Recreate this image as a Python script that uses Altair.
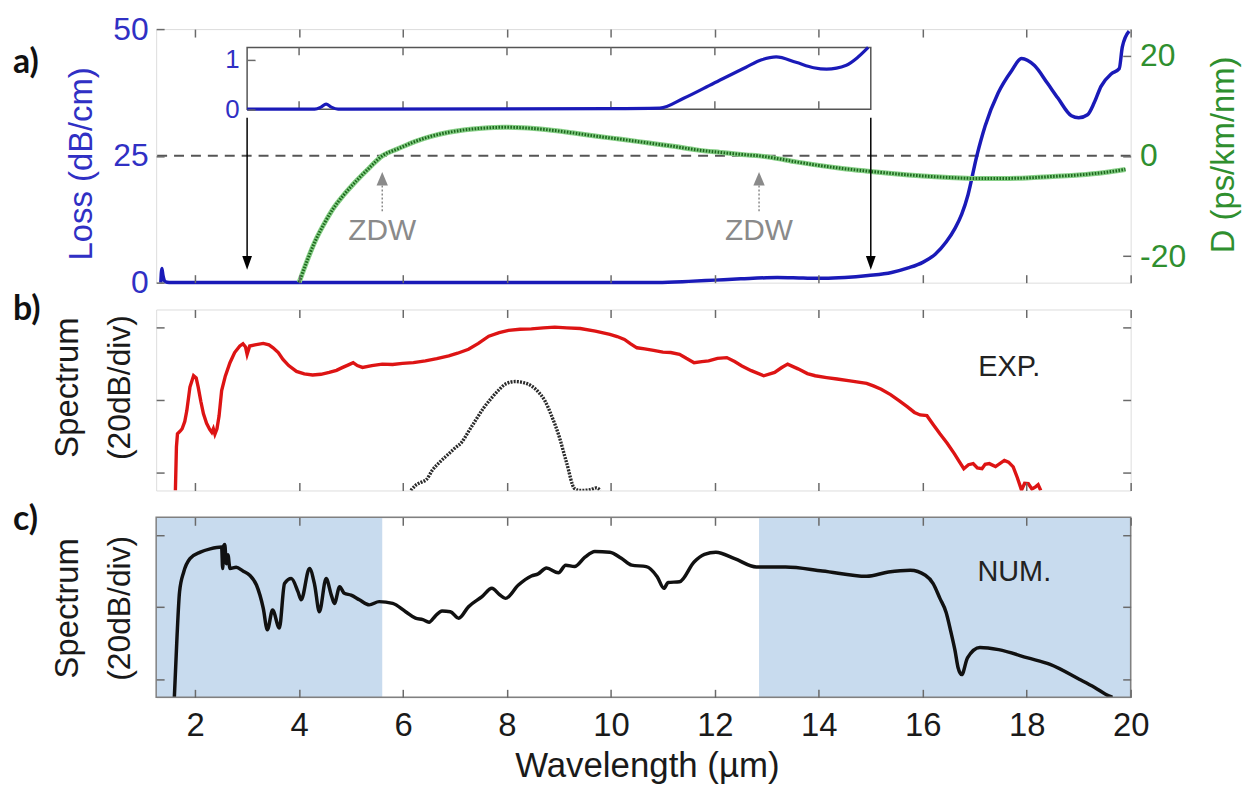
import altair as alt
import pandas as pd

# ---------------- data ----------------
x_ticks = [2, 4, 6, 8, 10, 12, 14, 16, 18, 20]
loss_ticks = [0, 25, 50]
d_ticks = [-20, 0, 20]
spec_ticks = [-40, -20, 0]
inset_yticks = [0, 1]
inset_xticks = [4, 6, 8, 10, 12, 14]
inset_span = [3, 15]
arrow_wl = [3, 15]
zdw_wl = [5.6, 12.85]

loss_wl = [1.34, 1.36, 1.38, 1.42, 1.5, 4.0, 10.9, 11.5, 12.0, 12.5, 13.2, 13.7, 14.1, 14.5,
           14.95, 15.4, 15.72, 16.0, 16.24, 16.45, 16.62, 16.75, 16.87, 17.04, 17.2, 17.45,
           17.71, 17.9, 18.15, 18.4, 18.6, 18.86, 19.0, 19.17, 19.3, 19.43, 19.63, 19.78,
           19.84, 19.97]
loss_val = [0.0, 2.8, 1.5, 0.2, 0.05, 0.05, 0.05, 0.25, 0.5, 0.75, 1.0, 0.9, 0.85, 1.0,
            1.4, 2.0, 2.9, 4.0, 5.6, 8.0, 10.7, 13.5, 17.3, 25.0, 30.9, 37.4,
            41.8, 44.2, 42.8, 39.3, 36.4, 32.9, 32.5, 33.1, 35.5, 38.7, 41.2, 42.2,
            46.5, 49.6]

inset_wl = [3.0, 4.3, 4.42, 4.52, 4.62, 4.75, 10.0, 10.94, 11.4, 11.97, 12.6, 12.9, 13.18,
            13.56, 13.9, 14.15, 14.53, 14.75, 14.95]
inset_val = [0.0, 0.0, 0.04, 0.1, 0.04, 0.0, 0.01, 0.02, 0.22, 0.52, 0.85, 1.0, 1.06,
             0.95, 0.84, 0.81, 0.89, 1.05, 1.25]

disp_wl = [4.0, 4.15, 4.3, 4.5, 4.65, 4.85, 5.1, 5.35, 5.6, 5.9, 6.24, 6.54, 6.88, 7.2,
           7.52, 7.95, 8.3, 8.78, 9.25, 9.73, 10.2, 10.7, 11.2, 11.65, 12.1, 12.6, 12.85,
           13.1, 13.56, 14.0, 14.45, 14.9, 15.4, 16.0, 16.5, 17.0, 17.5, 18.0, 18.5, 19.0,
           19.5, 19.9]
disp_val = [-25.2, -21.0, -17.2, -13.2, -10.6, -7.9, -5.0, -2.4, 0.0, 1.4, 2.9, 3.9, 4.7,
            5.2, 5.5, 5.7, 5.6, 5.2, 4.6, 3.9, 3.3, 2.6, 1.9, 1.2, 0.7, 0.2, 0.0,
            -0.35, -1.2, -1.9, -2.5, -3.0, -3.5, -4.0, -4.3, -4.5, -4.5, -4.4, -4.1, -3.8,
            -3.3, -2.7]

exp_wl = [1.62, 1.64, 1.66, 1.72, 1.75, 1.8, 1.84, 1.9, 1.97, 2.02, 2.06, 2.11, 2.16, 2.22,
          2.28, 2.32, 2.35, 2.38, 2.42, 2.46, 2.51, 2.58, 2.67, 2.76, 2.86, 2.92, 2.97, 3.0,
          3.05, 3.15, 3.31, 3.42, 3.5, 3.6, 3.69, 3.8, 3.95, 4.1, 4.26, 4.42, 4.58, 4.72,
          4.84, 4.95, 5.04, 5.12, 5.22, 5.4, 5.6, 5.8, 5.99, 6.2, 6.43, 6.65, 6.88, 7.05,
          7.26, 7.45, 7.65, 7.85, 8.03, 8.25, 8.47, 8.7, 8.92, 9.15, 9.41, 9.7, 9.98, 10.12,
          10.26, 10.38, 10.5, 10.65, 10.82, 11.0, 11.15, 11.32, 11.45, 11.6, 11.75, 11.88,
          12.05, 12.23, 12.38, 12.52, 12.7, 12.94, 13.15, 13.28, 13.4, 13.6, 13.78, 13.93,
          14.15, 14.35, 14.6, 14.92, 15.05, 15.2, 15.38, 15.55, 15.7, 15.84, 15.95, 16.08,
          16.2, 16.33, 16.47, 16.61, 16.7, 16.79, 16.88, 16.97, 17.05, 17.14, 17.2, 17.28,
          17.4, 17.57, 17.65, 17.74, 17.82, 17.9, 17.96, 18.03, 18.1, 18.17, 18.22, 18.27]
exp_db = [-45.0, -33.0, -29.4, -28.5, -28.0, -26.0, -23.0, -16.5, -13.4, -14.0, -16.6, -20.5,
          -23.9, -26.5, -28.2, -29.0, -28.0, -29.5, -28.0, -24.5, -17.5, -13.5, -9.8, -7.0,
          -5.2, -4.6, -5.5, -7.5, -5.2, -4.9, -4.5, -4.9, -5.7, -7.0, -8.9, -10.6, -12.2,
          -12.9, -13.2, -13.0, -12.5, -11.9, -11.1, -10.4, -9.8, -10.6, -11.1, -10.6, -10.2,
          -10.3, -10.0, -9.8, -9.3, -8.7, -7.9, -7.2, -6.1, -4.5, -2.5, -1.5, -0.9, -0.6,
          -0.5, -0.2, 0.0, -0.2, -0.4, -1.1, -2.0, -2.6, -3.4, -4.6, -5.7, -6.0, -6.4, -6.9,
          -7.0, -7.5, -8.6, -9.8, -9.5, -9.3, -8.6, -8.4, -9.5, -10.7, -12.0, -13.4, -12.5,
          -11.2, -10.2, -11.5, -12.8, -13.4, -13.9, -14.3, -14.8, -15.5, -16.2, -17.1, -18.6,
          -20.3, -21.9, -23.5, -24.2, -24.4, -26.8, -29.4, -32.0, -34.9, -37.0, -39.0, -37.9,
          -37.6, -38.8, -39.0, -37.8, -37.6, -38.4, -36.7, -37.2, -38.5, -41.5, -44.9, -43.0,
          -43.1, -44.6, -44.0, -43.4, -45.0]

pump_wl = [6.15, 6.25, 6.37, 6.45, 6.56, 6.72, 6.88, 7.0, 7.13, 7.25, 7.39, 7.55, 7.71, 7.85,
           7.97, 8.16, 8.32, 8.47, 8.6, 8.73, 8.86, 8.99, 9.15, 9.3, 9.4, 9.6, 9.72, 9.8]
pump_db = [-45.0, -43.5, -42.6, -42.0, -39.5, -37.0, -34.9, -33.3, -31.7, -29.0, -25.8, -22.3,
           -19.4, -17.2, -15.7, -15.0, -15.3, -16.2, -17.8, -20.3, -24.5, -29.5, -37.5, -44.5,
           -45.0, -44.8, -44.3, -45.0]

num_wl = [1.6, 1.65, 1.7, 1.78, 1.9, 2.1, 2.29, 2.51, 2.53, 2.55, 2.57, 2.6, 2.63, 2.67, 2.79,
          2.92, 3.05, 3.18, 3.31, 3.39, 3.49, 3.62, 3.72, 3.85, 3.98, 4.04, 4.2, 4.3, 4.39,
          4.52, 4.62, 4.68, 4.78, 4.87, 5.0, 5.16, 5.35, 5.54, 5.8, 6.05, 6.24, 6.38, 6.5,
          6.62, 6.75, 6.91, 7.07, 7.26, 7.52, 7.71, 7.85, 7.97, 8.22, 8.47, 8.6, 8.76, 8.99,
          9.13, 9.3, 9.5, 9.69, 9.98, 10.2, 10.4, 10.68, 10.89, 11.02, 11.1, 11.32, 11.6,
          11.8, 12.02, 12.38, 12.8, 13.36, 14.07, 14.92, 15.34, 15.76, 16.05, 16.2, 16.33,
          16.45, 16.54, 16.62, 16.68, 16.75, 16.86, 17.1, 17.46, 18.02, 18.45, 19.01, 19.3,
          19.58, 19.65]
num_db = [-45.0, -28.6, -15.8, -10.3, -6.6, -4.8, -3.9, -3.4, -9.3, -3.0, -2.7, -8.0, -5.5,
          -9.3, -9.0, -10.0, -11.2, -13.9, -20.3, -26.3, -20.8, -25.8, -13.5, -12.1, -15.8,
          -18.0, -9.3, -13.9, -21.3, -12.1, -16.7, -19.0, -14.4, -16.2, -16.7, -18.0, -19.4,
          -18.5, -19.0, -21.3, -23.1, -23.5, -24.2, -22.5, -21.1, -21.3, -23.1, -19.9, -17.1,
          -14.8, -16.5, -17.6, -13.9, -11.4, -10.8, -9.2, -10.5, -8.4, -8.8, -6.2, -4.6, -4.8,
          -6.5, -8.4, -8.8, -11.6, -14.8, -13.2, -13.0, -7.5, -5.4, -4.8, -6.6, -8.9, -8.9,
          -10.0, -11.5, -10.3, -9.8, -11.2, -13.5, -17.6, -21.5, -26.8, -32.0, -36.8, -38.7,
          -34.1, -31.2, -31.8, -34.1, -35.9, -40.0, -42.2, -44.6, -45.0]

# ---------------- style ----------------
XDOM = [1.25, 20.0]
LOSS_DOM = [0, 50]
D_DOM = [-25.25, 25.25]
SPEC_DOM = [-45, 4.85]
INSET_DOM = [0, 1.25]

W, HA, HB, HC = 980, 255, 182, 181
FONT = "Liberation Sans"
LABEL_FONT = "Lato"
BLUE_LINE = "#1a1ab8"
BLUE_TXT = "#3030c4"
GREEN_TXT = "#2f8f2f"
RED = "#dd1414"
FRAME = "#808080"
TICK_COLOR = "#6a6a6a"
GRAY = "#8a8a8a"
SHADE = "#c8dbee"
TICK = 8

xs = alt.Scale(domain=XDOM, nice=False, zero=False)
loss_y = alt.Scale(domain=LOSS_DOM, nice=False, zero=False)
d_y = alt.Scale(domain=D_DOM, nice=False, zero=False)
spec_y = alt.Scale(domain=SPEC_DOM, nice=False, zero=False)
inset_left = (inset_span[0] - XDOM[0]) / (XDOM[1] - XDOM[0]) * W
inset_y = alt.Scale(domain=INSET_DOM, range=[80.5, 18.5], nice=False, zero=False)


def x_axis(orient, labels=False):
    return alt.Axis(orient=orient, values=x_ticks, tickSize=TICK, offset=-TICK, domain=False,
                    grid=False, labels=labels, title=None, tickColor=TICK_COLOR, tickWidth=1.5,
                    labelFontSize=33, labelFont=FONT, labelColor="#1a1a1a", labelPadding=12,
                    labelFlush=False, zindex=2)


def y_axis(orient, values, labels=False, color="#222", size=31, pad=8, offset=-TICK):
    return alt.Axis(orient=orient, values=values, tickSize=TICK, offset=offset, domain=False,
                    grid=False, labels=labels, title=None, tickColor=TICK_COLOR, tickWidth=1.5,
                    labelFontSize=size, labelFont=FONT, labelColor=color, labelPadding=pad,
                    labelExpr="'' + datum.value", labelFlush=False, zindex=2)


def label(text, x, y, size=33, color="#1a1a1a", angle=0, font=FONT, weight="normal",
          align="center", baseline="middle"):
    kw = dict(fontSize=size, color=color, font=font, fontWeight=weight, align=align,
              baseline=baseline)
    if angle:
        kw["angle"] = angle
    return alt.Chart(pd.DataFrame({"t": [text]})).mark_text(**kw).encode(
        text="t:N", x=alt.value(x), y=alt.value(y))


# ---------------- panel a ----------------
loss_df = pd.DataFrame({"wl": loss_wl, "loss": loss_val})
arrow_df = pd.DataFrame({"wl": arrow_wl, "top": [32.5, 32.5], "bot": [3.9, 3.9]})

loss_line = alt.Chart(loss_df).mark_line(color=BLUE_LINE, strokeWidth=3.5,
                                         interpolate="monotone").encode(
    x=alt.X("wl:Q", scale=xs, axis=x_axis("bottom")),
    y=alt.Y("loss:Q", scale=loss_y, axis=y_axis("left", loss_ticks, True, BLUE_TXT, 32, 8)))
arrow_shaft = alt.Chart(arrow_df).mark_rule(color="black", strokeWidth=1.5).encode(
    x=alt.X("wl:Q", scale=xs, axis=None),
    y=alt.Y("top:Q", scale=loss_y, axis=None), y2="bot:Q")
arrow_head = alt.Chart(arrow_df).mark_point(
    shape="M-0.7,-1L0.7,-1L0,1Z", filled=True, color="black", size=196, opacity=1).encode(
    x=alt.X("wl:Q", scale=xs, axis=None), y=alt.Y("bot:Q", scale=loss_y, axis=None))

d_df = pd.DataFrame({"wl": disp_wl, "D": disp_val})
d_halo = alt.Chart(d_df).mark_line(color="#86cf86", strokeWidth=5,
                                   interpolate="monotone").encode(
    x=alt.X("wl:Q", scale=xs, axis=x_axis("top")),
    y=alt.Y("D:Q", scale=d_y, axis=y_axis("right", d_ticks, True, GREEN_TXT, 32, 9)))
d_dots = alt.Chart(d_df).mark_line(color="#1d681d", strokeWidth=3, strokeDash=[1.6, 1.4],
                                   interpolate="monotone").encode(
    x=alt.X("wl:Q", scale=xs, axis=None), y=alt.Y("D:Q", scale=d_y, axis=None))
zero_rule = alt.Chart(pd.DataFrame({"D": [0]})).mark_rule(
    color="#555555", strokeWidth=2, strokeDash=[10, 7]).encode(
    y=alt.Y("D:Q", scale=d_y, axis=None))
zdw_df = pd.DataFrame({"wl": zdw_wl, "head": [-4.55] * 2, "s0": [-5.9] * 2, "s1": [-11.3] * 2,
                       "lab": [-15.0] * 2, "txt": ["ZDW"] * 2})
zdw_shaft = alt.Chart(zdw_df).mark_rule(color=GRAY, strokeWidth=1.5, strokeDash=[2, 2]).encode(
    x=alt.X("wl:Q", scale=xs, axis=None), y=alt.Y("s0:Q", scale=d_y, axis=None), y2="s1:Q")
zdw_head = alt.Chart(zdw_df).mark_point(
    shape="M-0.85,1L0.85,1L0,-1Z", filled=True, color=GRAY, size=180, opacity=1).encode(
    x=alt.X("wl:Q", scale=xs, axis=None), y=alt.Y("head:Q", scale=d_y, axis=None))
zdw_text = alt.Chart(zdw_df).mark_text(font=FONT, fontSize=30, color=GRAY).encode(
    x=alt.X("wl:Q", scale=xs, axis=None), y=alt.Y("lab:Q", scale=d_y, axis=None), text="txt:N")

inset_frame_df = pd.DataFrame({"x0": [inset_span[0]], "x1": [inset_span[1]],
                               "y0": [INSET_DOM[0]], "y1": [INSET_DOM[1]]})
inset_frame = alt.Chart(inset_frame_df).mark_rect(
    fill="white", stroke="#555555", strokeWidth=1.5).encode(
    x=alt.X("x0:Q", scale=xs, axis=None), x2="x1:Q",
    y=alt.Y("y0:Q", scale=inset_y,
            axis=y_axis("left", inset_yticks, True, BLUE_TXT, 26, 8, offset=-(inset_left + TICK))),
    y2="y1:Q")
itick_df = pd.DataFrame({
    "wl": inset_xticks + inset_xticks,
    "a": [INSET_DOM[0]] * len(inset_xticks) + [INSET_DOM[1]] * len(inset_xticks),
    "b": [INSET_DOM[0] + 0.16] * len(inset_xticks) + [INSET_DOM[1] - 0.16] * len(inset_xticks)})
inset_ticks = alt.Chart(itick_df).mark_rule(color=TICK_COLOR, strokeWidth=1.5).encode(
    x=alt.X("wl:Q", scale=xs, axis=None), y=alt.Y("a:Q", scale=inset_y, axis=None), y2="b:Q")
inset_line = alt.Chart(pd.DataFrame({"wl": inset_wl, "v": inset_val})).mark_line(
    color=BLUE_LINE, strokeWidth=3.2, interpolate="monotone").encode(
    x=alt.X("wl:Q", scale=xs, axis=None), y=alt.Y("v:Q", scale=inset_y, axis=None))

panel_a = alt.layer(
    zero_rule, loss_line, d_halo, d_dots, arrow_shaft, arrow_head,
    zdw_shaft, zdw_head, zdw_text, inset_frame, inset_ticks, inset_line,
    label("a)", -144, 34.5, size=34, font=LABEL_FONT, weight="bold", align="left", color="#111"),
    label("Loss (dB/cm)", -75, 135.5, size=33, color=BLUE_TXT, angle=270),
    label("D (ps/km/nm)", 1074, 126.5, size=33, color=GREEN_TXT, angle=270),
).resolve_scale(y="independent").resolve_axis(
    x="independent", y="independent").properties(width=W, height=HA)

# ---------------- panel b ----------------
exp_df = pd.DataFrame({"wl": exp_wl, "db": exp_db})
pump_df = pd.DataFrame({"wl": pump_wl, "db": pump_db})
red_line = alt.Chart(exp_df).mark_line(color=RED, strokeWidth=3.4, clip=True).encode(
    x=alt.X("wl:Q", scale=xs, axis=x_axis("bottom")),
    y=alt.Y("db:Q", scale=spec_y, axis=y_axis("left", spec_ticks)))
pump_line = alt.Chart(pump_df).mark_line(color="#2a2a2a", strokeWidth=3.4, strokeDash=[2, 1.2],
                                         clip=True, interpolate="monotone").encode(
    x=alt.X("wl:Q", scale=xs, axis=x_axis("top")),
    y=alt.Y("db:Q", scale=spec_y, axis=y_axis("right", spec_ticks)))
panel_b = alt.layer(
    red_line, pump_line,
    label("b)", -144, 0.5, size=34, font=LABEL_FONT, weight="bold", align="left", color="#111"),
    label("Spectrum", -89, 78.5, size=33, angle=270),
    label("(20dB/div)", -36, 78.5, size=32, angle=270),
    label("EXP.", 858, 57.5, size=29, color="#222"),
).resolve_axis(x="independent", y="independent").properties(width=W, height=HB)

# ---------------- panel c ----------------
shade_df = pd.DataFrame({"x0": [XDOM[0], zdw_wl[1]], "x1": [zdw_wl[0], XDOM[1]],
                         "lo": [SPEC_DOM[0]] * 2, "hi": [SPEC_DOM[1]] * 2})
shade = alt.Chart(shade_df).mark_rect(color=SHADE).encode(
    x=alt.X("x0:Q", scale=xs, axis=x_axis("top")), x2="x1:Q",
    y=alt.Y("lo:Q", scale=spec_y, axis=y_axis("right", spec_ticks)), y2="hi:Q")
num_line = alt.Chart(pd.DataFrame({"wl": num_wl, "db": num_db})).mark_line(
    color="#111111", strokeWidth=3.5, clip=True, interpolate="monotone").encode(
    x=alt.X("wl:Q", scale=xs, axis=x_axis("bottom", labels=True)),
    y=alt.Y("db:Q", scale=spec_y, axis=y_axis("left", spec_ticks)))
frame_c = alt.Chart(pd.DataFrame({"x0": [XDOM[0]], "x1": [XDOM[1]], "lo": [SPEC_DOM[0]],
                                  "hi": [SPEC_DOM[1]]})).mark_rect(
    fillOpacity=0, stroke=FRAME, strokeWidth=1.5).encode(
    x=alt.X("x0:Q", scale=xs, axis=None), x2="x1:Q",
    y=alt.Y("lo:Q", scale=spec_y, axis=None), y2="hi:Q")
panel_c = alt.layer(
    shade, num_line, frame_c,
    label("c)", -144, 2.5, size=34, font=LABEL_FONT, weight="bold", align="left", color="#111"),
    label("Spectrum", -89, 91.5, size=33, angle=270),
    label("(20dB/div)", -36, 91.5, size=32, angle=270),
    label("NUM.", 863, 55.5, size=29, color="#222"),
    label("Wavelength (µm)", 494, 261.5, size=35, baseline="alphabetic"),
).resolve_axis(x="independent", y="independent").properties(width=W, height=HC)

chart = alt.vconcat(panel_a, panel_b, panel_c, spacing=27, bounds="flush").properties(
    padding={"left": 4, "top": 2, "right": 4, "bottom": 0}
).configure_view(stroke=FRAME, strokeWidth=1.5).configure(font=FONT)

chart.save("out.html", embed_options={"renderer": "svg", "actions": False})
